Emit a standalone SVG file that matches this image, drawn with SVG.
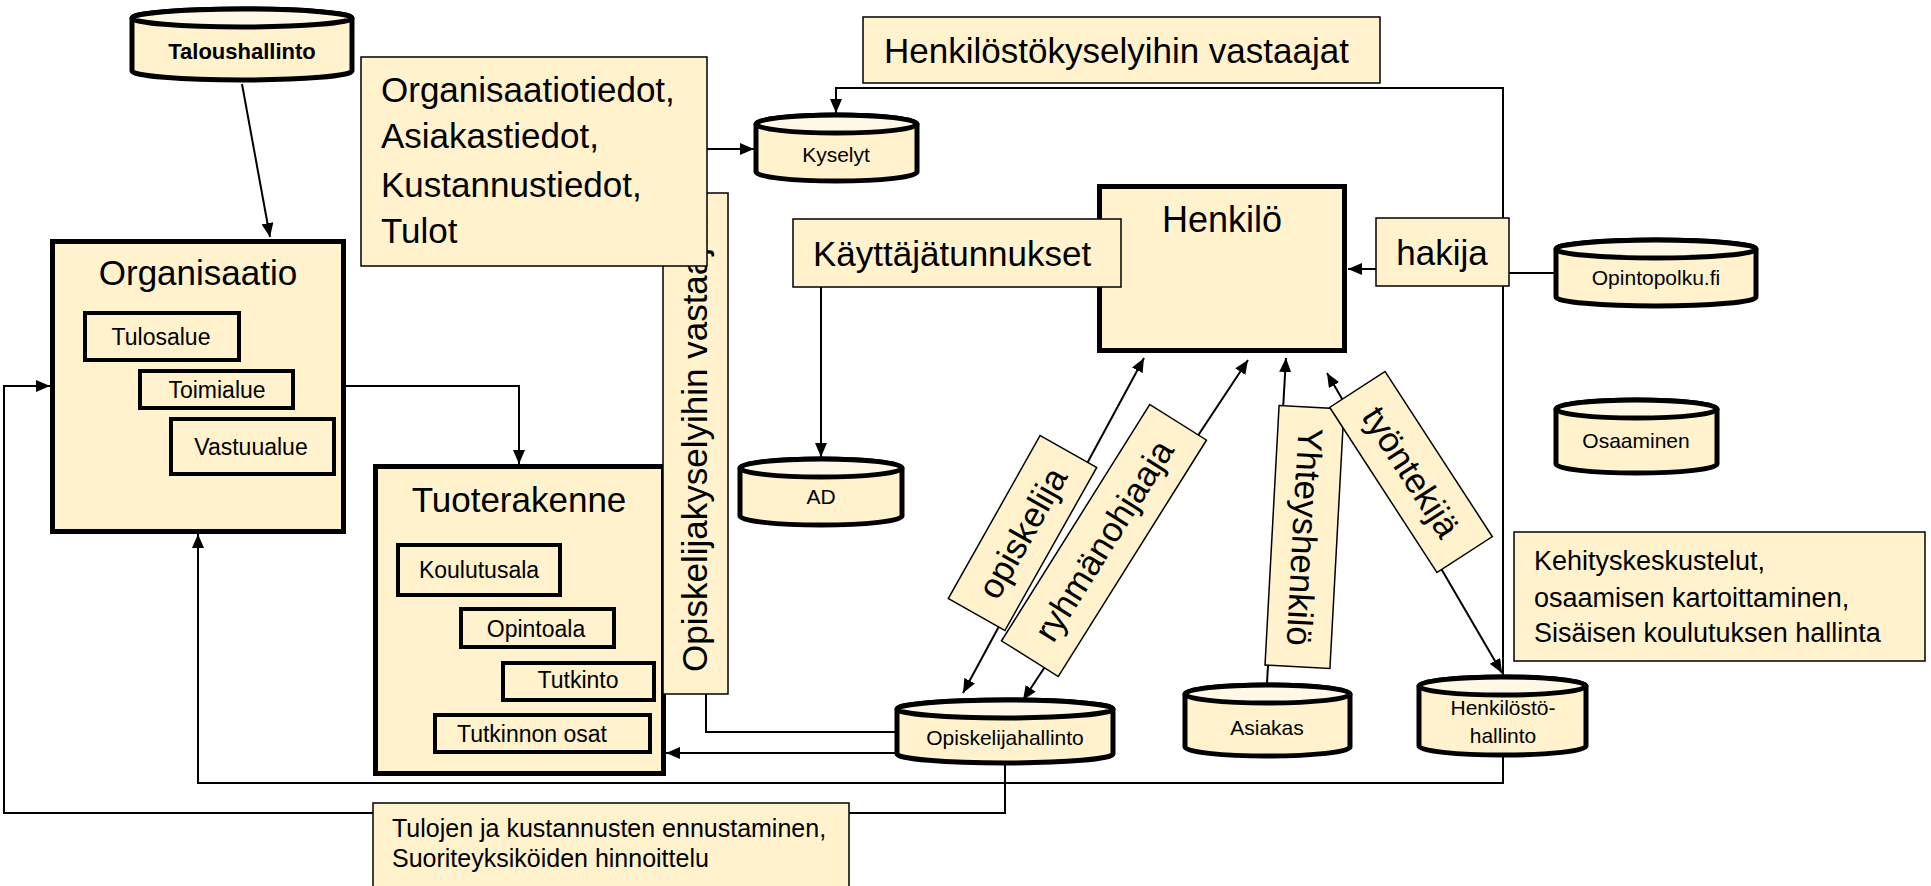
<svg xmlns="http://www.w3.org/2000/svg" width="1931" height="886" viewBox="0 0 1931 886">
<style>
text{font-family:"Liberation Sans",Arial,sans-serif;fill:#000}
.box{fill:#FFF2CC;stroke:#000;stroke-width:5}
.inner{fill:#FFF2CC;stroke:#000;stroke-width:4}
.lbl{fill:#FFF2CC;stroke:#000;stroke-width:1.5}
.cyl{fill:#FFF2CC;stroke:#000;stroke-width:5}
.cyltop{fill:#FFF8E6;stroke:#000;stroke-width:5}
.ln{fill:none;stroke:#000;stroke-width:2}
.big{font-size:35px}
.mid{font-size:27px}
.sm{font-size:23px}
.cy{font-size:21px;text-anchor:middle}
.c{text-anchor:middle}
</style>
<defs>
<marker id="ah" viewBox="0 0 14 12" refX="14" refY="6" markerWidth="14" markerHeight="12" markerUnits="userSpaceOnUse" orient="auto-start-reverse"><path d="M0,0 L14,6 L0,12 z" fill="#000"/></marker>
</defs>

<g id="connectors">
<line class="ln" x1="242" y1="84" x2="270" y2="237" marker-end="url(#ah)"/>
<line class="ln" x1="707" y1="149" x2="754" y2="149" marker-end="url(#ah)"/>
<polyline class="ln" points="1503,675 1503,88 836,88 836,113" marker-end="url(#ah)"/>
<line class="ln" x1="821" y1="287" x2="821" y2="457" marker-end="url(#ah)"/>
<line class="ln" x1="1376" y1="269" x2="1348" y2="269" marker-end="url(#ah)"/>
<line class="ln" x1="1554" y1="273" x2="1509" y2="273"/>
<polyline class="ln" points="346,386 519,386 519,464" marker-end="url(#ah)"/>
<polyline class="ln" points="1005,765 1005,813 4,813 4,386 50,386" marker-end="url(#ah)"/>
<polyline class="ln" points="1503,757 1503,783 198,783 198,534" marker-end="url(#ah)"/>
<line class="ln" x1="895" y1="753" x2="666" y2="753" marker-end="url(#ah)"/>
<polyline class="ln" points="895,732 706,732 706,694"/>
<line class="ln" x1="963" y1="693" x2="1144" y2="358" marker-start="url(#ah)" marker-end="url(#ah)"/>
<line class="ln" x1="1023" y1="700" x2="1248" y2="360" marker-start="url(#ah)" marker-end="url(#ah)"/>
<line class="ln" x1="1267" y1="683" x2="1286" y2="358" marker-end="url(#ah)"/>
<line class="ln" x1="1327" y1="373" x2="1502" y2="673" marker-start="url(#ah)" marker-end="url(#ah)"/>
</g>

<g id="taloushallinto">
<path class="cyl" d="M132,18 V71 A110,9 0 0 0 352,71 V18 A110,9 0 0 0 132,18 Z"/>
<ellipse class="cyltop" cx="242" cy="18" rx="110" ry="9"/>
<text x="242" y="59" class="c" style="font-size:22px;font-weight:bold">Taloushallinto</text>
</g>

<g id="organisaatio">
<rect class="box" x="52.5" y="241.5" width="291" height="290"/>
<text x="198" y="285" class="big c">Organisaatio</text>
<rect class="inner" x="85" y="313" width="154" height="47"/>
<text x="161" y="345" class="sm c">Tulosalue</text>
<rect class="inner" x="140" y="371" width="153" height="37"/>
<text x="217" y="398" class="sm c">Toimialue</text>
<rect class="inner" x="171" y="419" width="163" height="55"/>
<text x="251" y="455" class="sm c">Vastuualue</text>
</g>

<g id="tuoterakenne">
<rect class="box" x="375.5" y="466.5" width="288" height="307"/>
<text x="519" y="512" class="big c">Tuoterakenne</text>
<rect class="inner" x="398" y="545" width="162" height="50"/>
<text x="479" y="578" class="sm c">Koulutusala</text>
<rect class="inner" x="461" y="609" width="153" height="38"/>
<text x="536" y="637" class="sm c">Opintoala</text>
<rect class="inner" x="503" y="663" width="151" height="37"/>
<text x="578" y="688" class="sm c">Tutkinto</text>
<rect class="inner" x="435" y="715" width="215" height="37"/>
<text x="532" y="742" class="sm c">Tutkinnon osat</text>
</g>

<g id="opiskelijakysely-label">
<rect class="lbl" x="663" y="193" width="65" height="501"/>
<text transform="translate(707,672) rotate(-90)" class="big">Opiskelijakyselyihin vastaajat</text>
</g>

<g id="organisaatiotiedot-label">
<rect class="lbl" x="361" y="57" width="346" height="209"/>
<text x="381" y="102" class="big">Organisaatiotiedot,</text>
<text x="381" y="148" class="big">Asiakastiedot,</text>
<text x="381" y="197" class="big">Kustannustiedot,</text>
<text x="381" y="243" class="big">Tulot</text>
</g>

<g id="henkilostokysely-label">
<rect class="lbl" x="863" y="17" width="517" height="66"/>
<text x="884" y="63" class="big">Henkilöstökyselyihin vastaajat</text>
</g>

<g id="kyselyt">
<path class="cyl" d="M756,124 V172 A80.5,9 0 0 0 917,172 V124 A80.5,9 0 0 0 756,124 Z"/>
<ellipse class="cyltop" cx="836.5" cy="124" rx="80.5" ry="9"/>
<text x="836" y="162" class="cy">Kyselyt</text>
</g>

<g id="henkilo">
<rect class="box" x="1099.5" y="186.5" width="245" height="164"/>
<text x="1222" y="232" class="big c" style="font-size:36px">Henkilö</text>
</g>

<g id="kayttajatunnukset-label">
<rect class="lbl" x="793" y="219" width="328" height="68"/>
<text x="813" y="266" class="big">Käyttäjätunnukset</text>
</g>

<g id="hakija-label">
<rect class="lbl" x="1376" y="218" width="133" height="68"/>
<text x="1442" y="265" class="big c">hakija</text>
</g>

<g id="opintopolku">
<path class="cyl" d="M1556,249 V297 A100,9 0 0 0 1756,297 V249 A100,9 0 0 0 1556,249 Z"/>
<ellipse class="cyltop" cx="1656" cy="249" rx="100" ry="9"/>
<text x="1656" y="285" class="cy">Opintopolku.fi</text>
</g>

<g id="osaaminen">
<path class="cyl" d="M1556,409 V464 A80.5,9 0 0 0 1717,464 V409 A80.5,9 0 0 0 1556,409 Z"/>
<ellipse class="cyltop" cx="1636.5" cy="409" rx="80.5" ry="9"/>
<text x="1636" y="448" class="cy">Osaaminen</text>
</g>

<g id="ad">
<path class="cyl" d="M740,468 V516 A81,9 0 0 0 902,516 V468 A81,9 0 0 0 740,468 Z"/>
<ellipse class="cyltop" cx="821" cy="468" rx="81" ry="9"/>
<text x="821" y="504" class="cy">AD</text>
</g>

<g id="opiskelijahallinto">
<path class="cyl" d="M897,709 V754 A108,9 0 0 0 1113,754 V709 A108,9 0 0 0 897,709 Z"/>
<ellipse class="cyltop" cx="1005" cy="709" rx="108" ry="9"/>
<text x="1005" y="745" class="cy">Opiskelijahallinto</text>
</g>

<g id="asiakas">
<path class="cyl" d="M1185,694 V747 A82.5,9 0 0 0 1350,747 V694 A82.5,9 0 0 0 1185,694 Z"/>
<ellipse class="cyltop" cx="1267.5" cy="694" rx="82.5" ry="9"/>
<text x="1267" y="735" class="cy">Asiakas</text>
</g>

<g id="henkilostohallinto">
<path class="cyl" d="M1419,686 V746 A83.5,9 0 0 0 1586,746 V686 A83.5,9 0 0 0 1419,686 Z"/>
<ellipse class="cyltop" cx="1502.5" cy="686" rx="83.5" ry="9"/>
<text x="1503" y="715" class="cy">Henkilöstö-</text>
<text x="1503" y="743" class="cy">hallinto</text>
</g>

<g id="opiskelija-label" transform="translate(1022.5,533) rotate(-60.6)">
<rect class="lbl" x="-93.5" y="-32.5" width="187" height="65"/>
<text x="0" y="12" class="big c">opiskelija</text>
</g>

<g id="ryhmanohjaaja-label" transform="translate(1104,540.5) rotate(-57.9)">
<rect class="lbl" x="-139.5" y="-33.5" width="279" height="67"/>
<text x="0" y="12" class="big c">ryhmänohjaaja</text>
</g>

<g id="yhteyshenkilo-label" transform="translate(1304.5,537) rotate(93.1)">
<rect class="lbl" x="-130" y="-32.5" width="260" height="65"/>
<text x="0" y="12" class="big c">Yhteyshenkilö</text>
</g>

<g id="tyontekija-label" transform="translate(1411,472) rotate(57)">
<rect class="lbl" x="-98.5" y="-33" width="197" height="66"/>
<text x="0" y="12" class="big c">työntekijä</text>
</g>

<g id="kehitys-label">
<rect class="lbl" x="1514" y="532" width="411" height="129"/>
<text x="1534" y="570" class="mid">Kehityskeskustelut,</text>
<text x="1534" y="607" class="mid">osaamisen kartoittaminen,</text>
<text x="1534" y="642" class="mid">Sisäisen koulutuksen hallinta</text>
</g>

<g id="tulojen-label">
<rect class="lbl" x="373" y="803" width="476" height="90"/>
<text x="392" y="837" style="font-size:25px">Tulojen ja kustannusten ennustaminen,</text>
<text x="392" y="867" style="font-size:25px">Suoriteyksiköiden hinnoittelu</text>
</g>
</svg>
